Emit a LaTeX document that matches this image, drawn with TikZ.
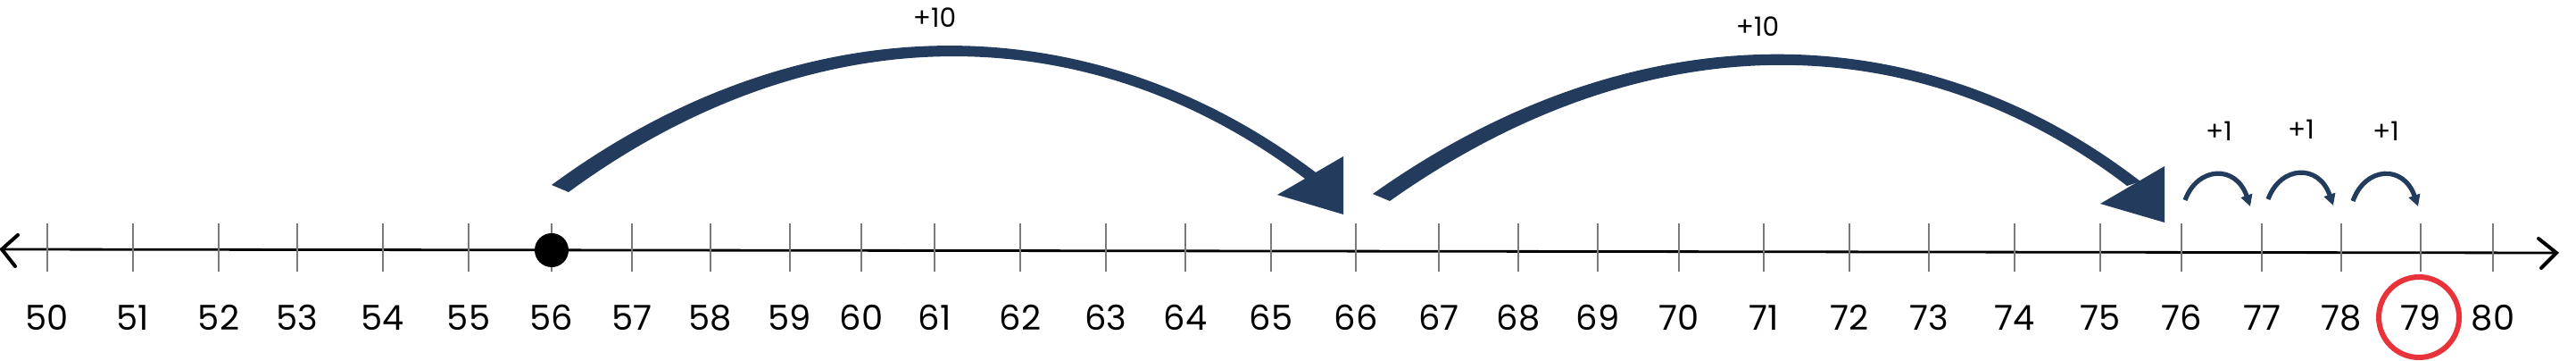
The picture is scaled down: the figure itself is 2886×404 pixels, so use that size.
\documentclass[tikz,border=0pt]{standalone}
\usepackage{fontspec}
\setmainfont{Poppins}
\usetikzlibrary{arrows.meta}
\definecolor{navy}{HTML}{233C5E}
\definecolor{ringred}{HTML}{E8333A}
\definecolor{tickgray}{HTML}{7A7A7A}
\begin{document}
\begin{tikzpicture}[x=0.25pt,y=-0.25pt,
  tickline/.style={draw=tickgray,line width=0.45pt},
  axisline/.style={draw=black,line width=0.7pt},
  axisarm/.style={draw=black,line width=1pt,line cap=round},
  numlabel/.style={anchor=base,inner sep=0pt,font=\fontsize{9.6}{11}\selectfont},
  jumplabel/.style={inner sep=0pt,font=\fontsize{7.4}{9}\selectfont},
  dotmark/.style={circle,fill=black,inner sep=0pt,minimum size=9.5pt},
  ring/.style={circle,draw=ringred,line width=1.5pt,inner sep=0pt,minimum size=22.5pt},
  bigjump/.style={fill=navy,draw=none},
  smalljump/.style={draw=navy,line width=1.3pt,-{Triangle[length=3.2pt,width=3.2pt]}}]
\useasboundingbox (0,0) rectangle (2886,404);
\fill[white] (0,0) rectangle (2886,404);
% axis
\coordinate (axL) at (2,279);
\coordinate (axR) at (2864,283);
\draw[axisline] (axL) -- (axR);
\draw[axisarm] (20,263) -- (axL) -- (17,298);
\draw[axisarm] (2844,267) -- (axR) -- (2847,300);
% ticks and numbers
\foreach \n/\x in {50/53,51/149,52/245,53/333,54/429,55/525,56/618,57/708,58/796,59/885,
  60/965,61/1047,62/1143,63/1239,64/1328,65/1424,66/1519,67/1612,68/1701,69/1790,
  70/1881,71/1976,72/2072,73/2161,74/2257,75/2353,76/2444,77/2534,78/2623,79/2712,80/2793}{
  \draw[tickline] (\x,250) -- (\x,304);
  \node[numlabel] (n\n) at (\x,370) {\n};
}
% start dot and answer ring
\node[dotmark] (start) at (618,280) {};
\node[ring] (answer) at (2710,355) {};
% first +10 jump
\fill[bigjump] (618,207) .. controls (900,0) and (1225,2) .. (1478,196)
  -- (1462,200) .. controls (1218,15) and (910,15) .. (637,215) -- cycle;
\fill[bigjump] (1505,175) -- (1505,240) -- (1431,218) -- cycle;
\node[jumplabel] (j1) at (1047,20) {+10};
% second +10 jump
\fill[bigjump] (1538,217) .. controls (1830,10) and (2150,12) .. (2398,203)
  -- (2383,208) .. controls (2143,25) and (1840,25) .. (1557,225) -- cycle;
\fill[bigjump] (2425,186) -- (2425,249) -- (2353,228) -- cycle;
\node[jumplabel] (j2) at (1969,30) {+10};
% +1 jumps
\draw[smalljump] (2448,224) .. controls (2462,186) and (2505,184) .. (2521,231);
\draw[smalljump] (2541,223) .. controls (2555,185) and (2598,183) .. (2614,230);
\draw[smalljump] (2636,225) .. controls (2650,186) and (2693,184) .. (2709,231);
\node[jumplabel] (s1) at (2486,147) {+1};
\node[jumplabel] (s2) at (2578,145) {+1};
\node[jumplabel] (s3) at (2673,147) {+1};
\end{tikzpicture}
\end{document}
